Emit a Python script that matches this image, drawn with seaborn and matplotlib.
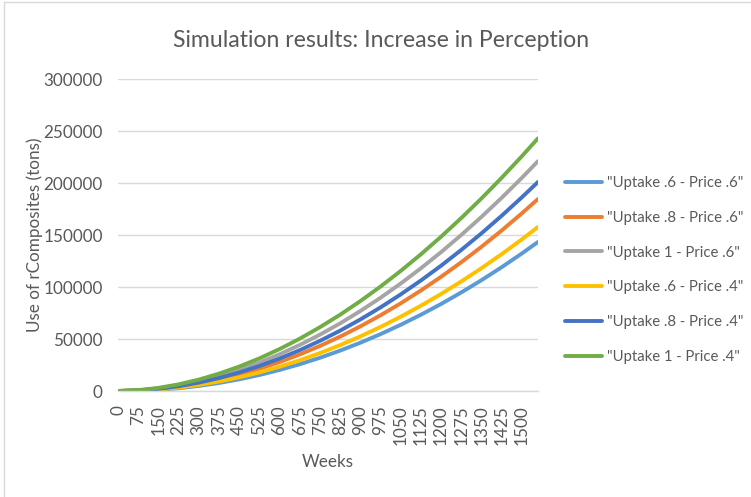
import matplotlib
matplotlib.use("Agg")
import matplotlib.pyplot as plt
import seaborn as sns
import pandas as pd
from matplotlib.lines import Line2D

# Simulated weekly uptake of recycled composites (tons), sampled every 75 weeks
weeks = [0, 75, 150, 225, 300, 375, 450, 525, 600, 675, 750, 825, 900, 975,
         1050, 1125, 1200, 1275, 1350, 1425, 1500, 1560]

uptake_06_price_06 = [0, 284, 1179, 2707, 4880, 7711, 11207, 15369, 20207, 25731,
                      31930, 38820, 46406, 54676, 63642, 73321, 83686, 94766,
                      106544, 119038, 132230, 143300]
uptake_08_price_06 = [0, 453, 1789, 3993, 7057, 10975, 15748, 21368, 27840, 35148,
                      43292, 52286, 62129, 72790, 84296, 96631, 109796, 123817,
                      138642, 154315, 170818, 184600]
uptake_1_price_06 = [0, 652, 2465, 5368, 9324, 14314, 20310, 27302, 35285, 44249,
                     54163, 65034, 76873, 89640, 103342, 117985, 133533, 150037,
                     167423, 185742, 204971, 221000]
uptake_06_price_04 = [0, 364, 1458, 3280, 5832, 9113, 13122, 17861, 23328, 29525,
                      36451, 44105, 52489, 61602, 71443, 82014, 93314, 105342,
                      118100, 131587, 145802, 157700]
uptake_08_price_04 = [0, 540, 2089, 4607, 8070, 12470, 17799, 24038, 31191, 39245,
                      48184, 58033, 68770, 80386, 92880, 106255, 120493, 135645,
                      151608, 168478, 186216, 201000]
uptake_1_price_04 = [0, 809, 2977, 6379, 10950, 16663, 23476, 31360, 40314, 50306,
                     61323, 73362, 86408, 100434, 115444, 131431, 148376, 166316,
                     185159, 204990, 225735, 243000]

series_names = ['"Uptake .6 - Price .6"', '"Uptake .8 - Price .6"',
                '"Uptake 1 - Price .6"', '"Uptake .6 - Price .4"',
                '"Uptake .8 - Price .4"', '"Uptake 1 - Price .4"']
series_values = [uptake_06_price_06, uptake_08_price_06, uptake_1_price_06,
                 uptake_06_price_04, uptake_08_price_04, uptake_1_price_04]
colors = ["#5B9BD5", "#ED7D31", "#A5A5A5", "#FFC000", "#4472C4", "#70AD47"]

x_ticks = list(range(0, 1501, 75))
y_ticks = list(range(0, 300001, 50000))

rows = []
for name, vals in zip(series_names, series_values):
    for w, v in zip(weeks, vals):
        rows.append({"Weeks": w, "Tons": v, "Series": name})
df = pd.DataFrame(rows)

sns.set_theme(style="white")
plt.rcParams["font.family"] = ["Lato", "DejaVu Sans"]
text_color = "#595959"

fig = plt.figure(figsize=(7.51, 4.97), dpi=100)
ax = fig.add_axes([118 / 751, 1 - 391 / 497, 420 / 751, 312 / 497])

sns.lineplot(data=df, x="Weeks", y="Tons", hue="Series", hue_order=series_names,
             palette=colors, linewidth=2.8, ax=ax, legend=False)

ax.set_xlim(0, 1560)
ax.set_ylim(0, 300000)
ax.set_xticks(x_ticks)
ax.set_xticklabels([str(t) for t in x_ticks], rotation=90)
ax.set_yticks(y_ticks)
ax.set_yticklabels([str(t) for t in y_ticks])
ax.tick_params(axis="both", length=0, labelsize=12.3, labelcolor=text_color)
ax.tick_params(axis="x", pad=10)
ax.tick_params(axis="y", pad=11)

ax.grid(axis="y", color="#D9D9D9", linewidth=1)
ax.grid(axis="x", visible=False)
for side in ["top", "right", "left"]:
    ax.spines[side].set_visible(False)
ax.spines["bottom"].set_color("#D9D9D9")
ax.spines["bottom"].set_linewidth(1)
ax.set_axisbelow(True)

ax.set_xlabel("Weeks", fontsize=12.3, color=text_color, labelpad=7)
ax.set_ylabel("Use of rComposites (tons)", fontsize=12.3, color=text_color)
ax.yaxis.set_label_coords(-0.178, 0.5)

fig.text(0.507, 0.918, "Simulation results: Increase in Perception",
         ha="center", va="center", fontsize=16.6, color=text_color)

handles = [Line2D([0], [0], color=c, linewidth=2.8) for c in colors]
fig.legend(handles, series_names, loc="center left",
           bbox_to_anchor=(565 / 751, 1 - 270 / 497), frameon=False,
           fontsize=10.7, labelcolor=text_color, handlelength=2.5,
           handletextpad=0.3, labelspacing=1.4, borderpad=0, borderaxespad=0)

# chart border
fig.add_artist(Line2D([4 / 751, 1], [1 - 2 / 497, 1 - 2 / 497],
                      transform=fig.transFigure, color="#D9D9D9", linewidth=1))
fig.add_artist(Line2D([4 / 751, 4 / 751], [0, 1 - 2 / 497],
                      transform=fig.transFigure, color="#D9D9D9", linewidth=1))

fig.savefig("out.png", dpi=100)
